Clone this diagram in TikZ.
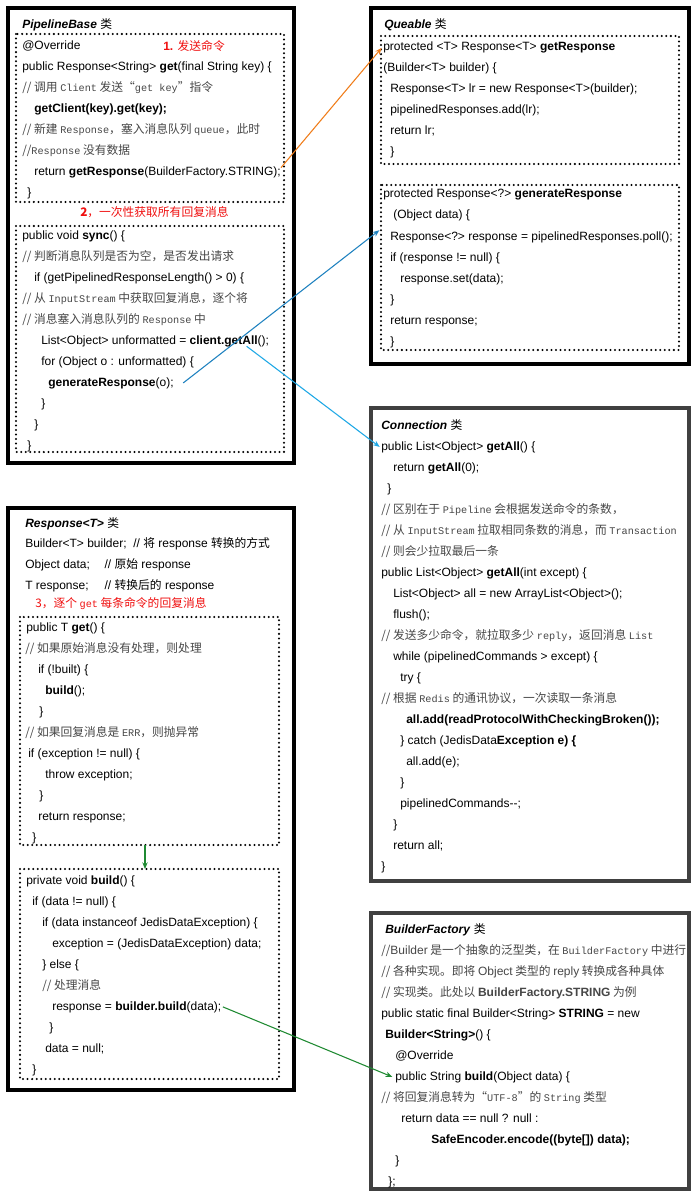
\documentclass[tikz,border=0pt]{standalone}
\usepackage{fontspec}
\setmainfont{Liberation Sans}
\newfontfamily\cjkfnt{Noto Sans CJK SC}[Scale=0.98]
\newfontfamily\monofnt{Liberation Mono}[Scale=0.85]
\usetikzlibrary{arrows.meta}

\definecolor{cmtgray}{gray}{0.28}
\definecolor{labelred}{HTML}{F01010}
\definecolor{boxgray}{HTML}{404040}
\definecolor{orangeline}{HTML}{F07D1A}
\definecolor{darkblue}{HTML}{1F82C0}
\definecolor{lightblue}{HTML}{1EA8E6}
\definecolor{greenline}{HTML}{1F8A32}

\newcommand\zh[1]{{\cjkfnt #1}}
\newcommand\mo[1]{{\monofnt #1}}
\newcommand\cmt[1]{{\color{cmtgray}\cjkfnt #1}}

\tikzset{
  txt/.style={anchor=base west,inner sep=0pt,font=\fontsize{9}{11}\selectfont},
  redlbl/.style={txt,text=labelred},
  outerbox/.style={line width=2.3pt},
  dotbox/.style={line width=1.7pt,line cap=round,dash pattern=on 0pt off 3.4pt},
  link/.style={line width=0.8pt,-{Stealth[length=5pt,width=4pt]}}
}

\begin{document}
\begin{tikzpicture}[x=0.75pt,y=-0.75pt]
  \fill[white] (0,0) rectangle (698,1198);
  \useasboundingbox (0,0) rectangle (698,1198);

  % PipelineBase
  \draw[outerbox] (8,8) rectangle (294,463);
  \draw[dotbox] (16,34) rectangle (284,202);
  \draw[dotbox] (16,226) rectangle (284,452);
  \node[txt] (pbtitle) at (22,29) {\textbf{\textit{PipelineBase}} \zh{类}};
  \node[redlbl] (step1) at (163,51) {\textbf{1.} \zh{发送命令}};
  \node[redlbl] (step2) at (80,217) {\zh{\textbf{2}，一次性获取所有回复消息}};
  \foreach \x/\t [count=\i] in {
    22/{@Override},
    22/{public Response<String> \textbf{get}(final String key) \{},
    22/{\cmt{// 调用 \mo{Client} 发送“\mo{get key}”指令}},
    34/{\textbf{getClient(key).get(key);}},
    22/{\cmt{// 新建 \mo{Response}，塞入消息队列 \mo{queue}，此时}},
    22/{\cmt{//\mo{Response} 没有数据}},
    34/{return \textbf{getResponse}(BuilderFactory.STRING);},
    27/{\}}}
    \node[txt] (pa\i) at (\x,{50+21*(\i-1)}) {\t};
  \foreach \x/\t [count=\i] in {
    22/{public void \textbf{sync}() \{},
    22/{\cmt{// 判断消息队列是否为空，是否发出请求}},
    34/{if (getPipelinedResponseLength() > 0) \{},
    22/{\cmt{// 从 \mo{InputStream} 中获取回复消息，逐个将}},
    22/{\cmt{// 消息塞入消息队列的 \mo{Response} 中}},
    41/{List<Object> unformatted = \textbf{client.getAll}();},
    41/{for (Object o : unformatted) \{},
    48/{\textbf{generateResponse}(o);},
    41/{\}},
    34/{\}},
    27/{\}}}
    \node[txt] (pb\i) at (\x,{239+21*(\i-1)}) {\t};

  % Queable
  \draw[outerbox] (371,8) rectangle (689,364);
  \draw[dotbox] (381,36) rectangle (679,164);
  \draw[dotbox] (381,185) rectangle (679,350);
  \node[txt] (qtitle) at (384,29) {\textbf{\textit{Queable}} \zh{类}};
  \foreach \x/\t [count=\i] in {
    383/{protected <T> Response<T> \textbf{getResponse}},
    383/{(Builder<T> builder) \{},
    390/{Response<T> lr = new Response<T>(builder);},
    390/{pipelinedResponses.add(lr);},
    390/{return lr;},
    390/{\}}}
    \node[txt] (qa\i) at (\x,{51+21*(\i-1)}) {\t};
  \foreach \x/\t [count=\i] in {
    383/{protected Response<?> \textbf{generateResponse}},
    393/{(Object data) \{},
    390/{Response<?> response = pipelinedResponses.poll();},
    390/{if (response != null) \{},
    400/{response.set(data);},
    390/{\}},
    390/{return response;},
    390/{\}}}
    \node[txt] (qb\i) at (\x,{198+21*(\i-1)}) {\t};

  % Connection
  \draw[outerbox,boxgray] (371,408) rectangle (689,881);
  \node[txt] (ctitle) at (381,429) {\textbf{\textit{Connection}} \zh{类}};
  \foreach \x/\t [count=\i] in {
    381/{public List<Object> \textbf{getAll}() \{},
    393/{return \textbf{getAll}(0);},
    387/{\}},
    381/{\cmt{// 区别在于 \mo{Pipeline} 会根据发送命令的条数，}},
    381/{\cmt{// 从 \mo{InputStream} 拉取相同条数的消息，而 \mo{Transaction}}},
    381/{\cmt{// 则会少拉取最后一条}},
    381/{public List<Object> \textbf{getAll}(int except) \{},
    393/{List<Object> all = new ArrayList<Object>();},
    393/{flush();},
    381/{\cmt{// 发送多少命令，就拉取多少 \mo{reply}，返回消息 \mo{List}}},
    393/{while (pipelinedCommands > except) \{},
    400/{try \{},
    381/{\cmt{// 根据 \mo{Redis} 的通讯协议，一次读取一条消息}},
    406/{\textbf{all.add(readProtocolWithCheckingBroken());}},
    400/{\} catch (JedisData\textbf{Exception e) \{}},
    406/{all.add(e);},
    400/{\}},
    400/{pipelinedCommands-{}-;},
    393/{\}},
    393/{return all;},
    381/{\}}}
    \node[txt] (cn\i) at (\x,{450+21*(\i-1)}) {\t};

  % Response<T>
  \draw[outerbox] (8,508) rectangle (294,1090);
  \draw[dotbox] (20,617) rectangle (279,845);
  \draw[dotbox] (20,869) rectangle (279,1079);
  \node[txt] (rtitle) at (25,527) {\textbf{\textit{Response<T>}} \zh{类}};
  \foreach \x/\t [count=\i] in {
    25/{Builder<T> builder;\hspace{5pt}// \zh{将} response \zh{转换的方式}},
    25/{Object data;\hspace{11pt}// \zh{原始} response},
    25/{T response;\hspace{12pt}// \zh{转换后的} response}}
    \node[txt] (ra\i) at (\x,{547+21*(\i-1)}) {\t};
  \node[redlbl] (step3) at (35,607) {\zh{3，逐个 \mo{get} 每条命令的回复消息}};
  \foreach \x/\t [count=\i] in {
    26/{public T \textbf{get}() \{},
    25/{\cmt{// 如果原始消息没有处理，则处理}},
    38/{if (!built) \{},
    45/{\textbf{build}();},
    39/{\}},
    25/{\cmt{// 如果回复消息是 \mo{ERR}，则抛异常}},
    28/{if (exception != null) \{},
    45/{throw exception;},
    39/{\}},
    38/{return response;},
    32/{\}}}
    \node[txt] (rb\i) at (\x,{631+21*(\i-1)}) {\t};
  \foreach \x/\t [count=\i] in {
    26/{private void \textbf{build}() \{},
    32/{if (data != null) \{},
    42/{if (data instanceof JedisDataException) \{},
    52/{exception = (JedisDataException) data;},
    42/{\} else \{},
    42/{\cmt{// 处理消息}},
    52/{response = \textbf{builder.build}(data);},
    49/{\}},
    45/{data = null;},
    32/{\}}}
    \node[txt] (rc\i) at (\x,{884+21*(\i-1)}) {\t};
  \coordinate (getbot) at (145,845);
  \coordinate (buildtop) at (145,869);

  % BuilderFactory
  \draw[outerbox,boxgray] (371,913) rectangle (689,1189);
  \node[txt] (btitle) at (385,933) {\textbf{\textit{BuilderFactory}} \zh{类}};
  \foreach \x/\t [count=\i] in {
    381/{\cmt{//\textrm{Builder} 是一个抽象的泛型类，在 \mo{BuilderFactory} 中进行}},
    381/{\cmt{// 各种实现。即将 \textrm{Object} 类型的 \textrm{reply} 转换成各种具体}},
    381/{\cmt{// 实现类。此处以 \textrm{\bfseries BuilderFactory.STRING} 为例}},
    381/{public static final Builder<String> \textbf{STRING} = new},
    385/{\textbf{Builder<String>}() \{},
    395/{@Override},
    395/{public String \textbf{build}(Object data) \{},
    381/{\cmt{// 将回复消息转为“\mo{UTF-8}”的 \mo{String} 类型}},
    401/{return data == null ? null :},
    431/{\textbf{SafeEncoder.encode((byte[]) data);}},
    395/{\}},
    388/{\};}}
    \node[txt] (bf\i) at (\x,{954+21*(\i-1)}) {\t};

  % calls
  \draw[link,orangeline] ([yshift=4pt]pa7.east) -- ([xshift=-1pt]qa1.west);
  \draw[link,darkblue] ([xshift=7pt]pb8.east) -- ([xshift=-8pt,yshift=5pt]qb3.west);
  \draw[link,lightblue] ([xshift=-17pt,yshift=-4pt]pb6.east) -- ([xshift=-1pt]cn1.west);
  \draw[link,greenline] (getbot) -- (buildtop);
  \draw[link,greenline] ([xshift=1pt]rc7.east) -- ([xshift=-2pt]bf7.west);
\end{tikzpicture}
\end{document}
